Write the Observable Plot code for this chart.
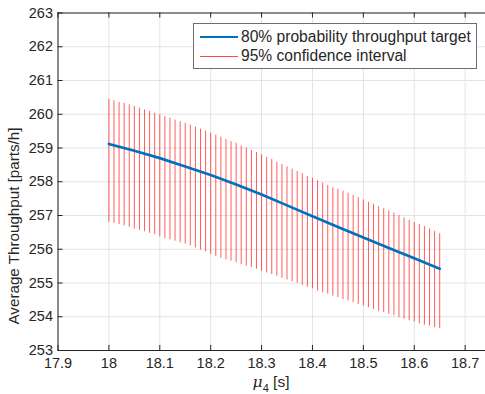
<!DOCTYPE html>
<html>
<head>
<meta charset="utf-8">
<script src="https://cdn.jsdelivr.net/npm/d3@7"></script>
<script src="https://cdn.jsdelivr.net/npm/@observablehq/plot@0.6"></script>
<style>
  html, body { margin: 0; padding: 0; background: #fff; }
  #wrap { position: relative; width: 485px; height: 394px; overflow: hidden;
          font-family: "Liberation Sans", Arial, sans-serif; color: #262626; }
  #wrap svg { display: block; }
  .ov { position: absolute; white-space: nowrap; line-height: 1; }
  #legend { position: absolute; left: 193px; top: 23px; width: 284px; height: 46px;
            border: 1px solid #6e6e6e; background: #fff; box-sizing: border-box; }
  .lrow { position: absolute; left: 6px; height: 18px; display: flex; align-items: center;
          font-size: 15.6px; white-space: nowrap; }
  .lrow span.sw { display: inline-block; width: 38px; margin-right: 3px; flex: none; }
</style>
</head>
<body>
<div id="wrap"></div>
<script>
// x positions of the confidence-interval bars (mu_4, s)
const ciX = [18.00,18.01,18.02,18.03,18.04,18.05,18.06,18.07,18.08,18.09,
             18.10,18.11,18.12,18.13,18.14,18.15,18.16,18.17,18.18,18.19,
             18.20,18.21,18.22,18.23,18.24,18.25,18.26,18.27,18.28,18.29,
             18.30,18.31,18.32,18.33,18.34,18.35,18.36,18.37,18.38,18.39,
             18.40,18.41,18.42,18.43,18.44,18.45,18.46,18.47,18.48,18.49,
             18.50,18.51,18.52,18.53,18.54,18.55,18.56,18.57,18.58,18.59,
             18.60,18.61,18.62,18.63,18.64,18.65];
// 95% confidence interval, upper ends
const ciUpper = [260.44,260.40,260.35,260.32,260.28,260.23,260.18,260.13,260.08,260.03,
                 259.98,259.93,259.88,259.83,259.78,259.73,259.68,259.62,259.56,259.50,
                 259.44,259.38,259.32,259.25,259.19,259.14,259.06,259.00,258.93,258.87,
                 258.80,258.72,258.66,258.58,258.51,258.44,258.37,258.30,258.24,258.16,
                 258.10,258.03,257.96,257.89,257.82,257.78,257.72,257.66,257.59,257.53,
                 257.46,257.39,257.33,257.26,257.20,257.14,257.07,257.00,256.93,256.86,
                 256.79,256.73,256.67,256.60,256.53,256.46];
// 95% confidence interval, lower ends
const ciLower = [256.80,256.77,256.73,256.69,256.65,256.60,256.56,256.52,256.47,256.43,
                 256.37,256.32,256.28,256.24,256.19,256.15,256.10,256.04,255.98,255.92,
                 255.85,255.78,255.73,255.69,255.65,255.60,255.55,255.50,255.46,255.41,
                 255.35,255.30,255.25,255.20,255.14,255.09,255.04,254.99,254.93,254.88,
                 254.83,254.76,254.71,254.67,254.61,254.57,254.51,254.47,254.42,254.36,
                 254.32,254.27,254.21,254.16,254.12,254.07,254.03,253.97,253.93,253.88,
                 253.84,253.79,253.75,253.72,253.68,253.65];
// 80% probability throughput target
const targetX = [18.00,18.05,18.10,18.15,18.20,18.25,18.30,18.35,18.40,18.45,18.50,18.55,18.60,18.65];
const targetY = [259.12,258.92,258.70,258.45,258.20,257.92,257.62,257.30,256.98,256.66,256.35,256.04,255.73,255.42];
// axis ticks
const xTicks = [17.9,18.0,18.1,18.2,18.3,18.4,18.5,18.6,18.7];
const yTicks = [253,254,255,256,257,258,259,260,261,262,263];
// legend labels
const legendLabels = ["80% probability throughput target", "95% confidence interval"];
const yLabel = "Average Throughput [parts/h]";

const blue = "#0072BD", red = "#ff1a1a", ink = "#262626", gridC = "#e3e3e3";

const ci = ciX.map((x, i) => ({x, lo: ciLower[i], hi: ciUpper[i]}));
const target = targetX.map((x, i) => ({x, y: targetY[i]}));

const chart = Plot.plot({
  width: 485, height: 394,
  marginLeft: 57.5, marginRight: 0, marginTop: 12.5, marginBottom: 44,
  style: {fontFamily: "'Liberation Sans', Arial, sans-serif", fontSize: "14.5px", color: ink, background: "white"},
  x: {domain: [17.9, 18.74]},
  y: {domain: [253, 263]},
  marks: [
    Plot.gridX(xTicks, {stroke: gridC, strokeOpacity: 1}),
    Plot.gridY(yTicks, {stroke: gridC, strokeOpacity: 1}),
    Plot.ruleX(ci, {x: "x", y1: "lo", y2: "hi", stroke: red, strokeWidth: 1, strokeOpacity: 0.7}),
    Plot.line(target, {x: "x", y: "y", stroke: blue, strokeWidth: 2.7}),
    Plot.ruleY([253, 263], {stroke: ink, strokeWidth: 1}),
    Plot.ruleX([17.9], {stroke: ink, strokeWidth: 1}),
    Plot.ruleX(xTicks, {y1: 253, y2: 253.15, stroke: ink}),
    Plot.ruleX(xTicks, {y1: 263, y2: 262.85, stroke: ink}),
    Plot.ruleY(yTicks, {x1: 17.9, x2: 17.91, stroke: ink}),
    Plot.axisX(xTicks, {tickSize: 0, tickPadding: 7.5, label: null, fill: ink, fontSize: 14.5, tickFormat: d => String(+d.toFixed(1))}),
    Plot.axisY(yTicks, {tickSize: 0, tickPadding: 5, label: null, fill: ink, fontSize: 14.5})
  ]
});

const wrap = document.getElementById("wrap");
wrap.appendChild(chart);

// axis titles
const xl = document.createElement("div");
xl.className = "ov";
xl.style.cssText = "left:271px;top:384px;transform:translate(-50%,-50%);font-size:15.5px;";
xl.innerHTML = '<i style="font-family:\'DejaVu Serif\',serif;">μ</i><sub style="font-size:11px;">4</sub> [s]';
wrap.appendChild(xl);

const yl = document.createElement("div");
yl.className = "ov";
yl.style.cssText = "left:14px;top:226px;transform:translate(-50%,-50%) rotate(-90deg);font-size:15.2px;";
yl.textContent = yLabel;
wrap.appendChild(yl);

// legend
const lg = document.createElement("div");
lg.id = "legend";
[[blue, 2.7], [red, 1]].forEach(([c, w], i) => {
  const row = document.createElement("div");
  row.className = "lrow";
  row.style.top = (i === 0 ? 4 : 23) + "px";
  const sw = document.createElement("span");
  sw.className = "sw";
  sw.style.borderTop = w + "px solid " + c;
  if (i === 1) sw.style.opacity = 0.8;
  row.appendChild(sw);
  const t = document.createElement("span");
  t.textContent = legendLabels[i];
  row.appendChild(t);
  lg.appendChild(row);
});
wrap.appendChild(lg);
</script>
</body>
</html>
